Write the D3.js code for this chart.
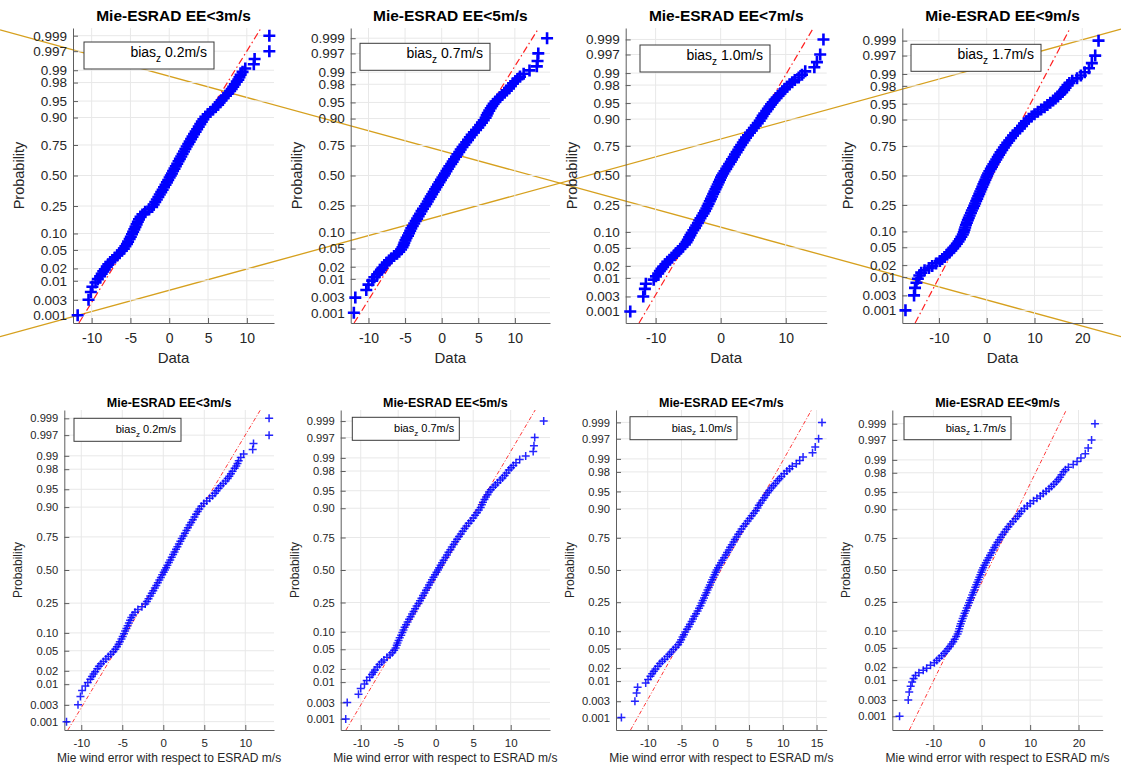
<!DOCTYPE html>
<html><head><meta charset="utf-8">
<script src="https://cdn.jsdelivr.net/npm/d3@7"></script>
<style>
body{margin:0;background:#fff}
svg{display:block}
text{font-family:"Liberation Sans",Arial,Helvetica,sans-serif}
</style>
</head><body>
<svg id="chart" width="1121" height="767"></svg>
<script>
// ---------------- DATA ----------------
const panelTitles = ["Mie-ESRAD EE<3m/s","Mie-ESRAD EE<5m/s","Mie-ESRAD EE<7m/s","Mie-ESRAD EE<9m/s"];
const biasValues = ["0.2m/s","0.7m/s","1.0m/s","1.7m/s"];

// probability levels (plotting positions) at which the sorted errors were read
const probLevels = [
 0.001,0.003,0.005,0.007,0.009,0.011,0.013,0.015,0.017,0.019,
 0.022,0.025,0.028,0.031,0.035,0.039,0.043,0.048,0.053,0.059,
 0.065,0.072,0.080,0.088,0.097,0.107,0.117,0.128,0.140,0.153,
 0.166,0.180,0.195,0.211,0.227,0.244,0.261,0.279,0.298,0.317,
 0.337,0.357,0.377,0.398,0.419,0.440,0.461,0.482,
 0.500,
 0.518,0.539,0.560,0.581,0.602,0.623,0.643,0.663,0.683,0.702,
 0.721,0.739,0.756,0.773,0.789,0.805,0.820,0.834,0.847,0.860,
 0.872,0.883,0.893,0.903,0.912,0.920,0.928,0.935,0.941,0.947,
 0.952,0.957,0.961,0.965,0.969,0.972,0.975,0.978,0.981,0.983,
 0.985,0.987,0.989,0.991,0.993,0.995,0.997,0.999
];

// wind error (m/s) at each probability level
const errorsEE3 = [
 -11.8,-10.4,-10.1,-9.9,-9.5,-9.2,-8.9,-8.7,-8.5,-8.3,
 -8.05,-7.85,-7.6,-7.3,-7.0,-6.7,-6.4,-6.1,-5.85,-5.65,
 -5.45,-5.3,-5.1,-4.95,-4.8,-4.65,-4.5,-4.35,-4.2,-4.05,
 -3.9,-3.7,-3.45,-3.1,-2.6,-2.2,-2.0,-1.8,-1.6,-1.4,
 -1.22,-1.03,-0.85,-0.67,-0.48,-0.3,-0.13,0.05,
 0.2,
 0.35,0.5,0.68,0.85,1.03,1.2,1.37,1.55,1.72,1.9,
 2.08,2.25,2.45,2.63,2.82,3.0,3.2,3.4,3.6,3.8,
 4.0,4.2,4.4,4.65,4.95,5.3,5.65,6.0,6.3,6.5,
 6.75,7.0,7.3,7.6,7.85,8.05,8.25,8.45,8.7,8.9,
 9.05,9.2,9.45,9.8,10.9,11.0,12.9,12.9
];
const errorsEE5 = [
 -12.0,-11.8,-10.3,-10.0,-9.5,-9.2,-8.8,-8.5,-8.3,-8.1,
 -7.8,-7.5,-7.2,-6.9,-6.5,-6.1,-5.8,-5.55,-5.35,-5.2,
 -5.1,-4.95,-4.8,-4.6,-4.45,-4.3,-4.15,-3.95,-3.75,-3.55,
 -3.35,-3.15,-2.95,-2.75,-2.55,-2.3,-2.1,-1.9,-1.7,-1.5,
 -1.3,-1.1,-0.9,-0.7,-0.5,-0.3,-0.1,0.1,
 0.3,
 0.45,0.65,0.85,1.05,1.3,1.5,1.7,1.95,2.15,2.4,
 2.6,2.85,3.1,3.35,3.6,3.85,4.1,4.4,4.7,5.0,
 5.25,5.5,5.75,6.0,6.15,6.3,6.5,6.7,6.9,7.1,
 7.35,7.65,7.95,8.25,8.6,8.9,9.2,9.45,9.75,10.05,
 10.35,10.7,11.2,12.0,13.0,13.1,13.2,14.4
];
const errorsEE7 = [
 -13.9,-11.9,-11.65,-11.5,-10.3,-9.95,-9.6,-9.35,-9.1,-8.85,
 -8.5,-8.2,-7.85,-7.5,-7.1,-6.8,-6.5,-6.2,-5.85,-5.5,
 -5.25,-5.05,-4.85,-4.65,-4.45,-4.2,-3.95,-3.75,-3.5,-3.3,
 -3.1,-2.85,-2.62,-2.4,-2.2,-2.02,-1.85,-1.67,-1.5,-1.32,
 -1.15,-0.97,-0.8,-0.63,-0.45,-0.28,-0.1,0.05,
 0.2,
 0.4,0.6,0.85,1.05,1.3,1.55,1.75,2.0,2.2,2.45,
 2.7,2.9,3.15,3.4,3.65,3.9,4.2,4.5,4.8,5.1,
 5.4,5.7,6.0,6.25,6.45,6.7,7.0,7.25,7.5,7.75,
 8.0,8.3,8.6,8.9,9.2,9.5,9.8,10.2,10.6,11.0,
 11.4,12.0,12.5,13.0,14.4,14.8,15.3,15.8
];
const errorsEE9 = [
 -17.0,-15.2,-15.0,-14.7,-14.4,-14.1,-13.7,-13.0,-12.1,-11.4,
 -10.6,-9.8,-9.3,-8.8,-8.3,-7.8,-7.4,-7.0,-6.6,-6.25,
 -5.9,-5.6,-5.3,-5.0,-4.8,-4.65,-4.5,-4.35,-4.15,-3.95,
 -3.75,-3.55,-3.3,-3.1,-2.85,-2.62,-2.42,-2.2,-1.98,-1.77,
 -1.55,-1.35,-1.13,-0.92,-0.7,-0.5,-0.28,-0.08,
 0.1,
 0.3,0.55,0.85,1.1,1.4,1.7,2.0,2.3,2.6,2.9,
 3.25,3.6,3.95,4.3,4.7,5.1,5.5,5.95,6.45,6.95,
 7.4,7.8,8.2,8.8,9.4,10.0,10.7,11.4,12.1,12.7,
 13.3,13.9,14.4,14.9,15.4,15.8,16.2,16.5,16.9,17.3,
 17.9,18.9,19.7,20.5,21.4,22.0,22.7,23.4
];

// reference (normal fit) line per panel
const refMean  = [0.1, 0.65, 0.85, 1.25];
const refSigma = [3.6, 3.8, 4.0, 4.8];

// axis ticks
const probTicks = [0.001,0.003,0.01,0.02,0.05,0.10,0.25,0.50,0.75,0.90,0.95,0.98,0.99,0.997,0.999];
const probTickLabels = ["0.001","0.003","0.01","0.02","0.05","0.10","0.25","0.50","0.75","0.90","0.95","0.98","0.99","0.997","0.999"];
const xTicksTop    = [[-10,-5,0,5,10],[-10,-5,0,5,10],[-10,0,10],[-10,0,10,20]];
const xTicksBottom = [[-10,-5,0,5,10],[-10,-5,0,5,10],[-10,-5,0,5,10,15],[-10,0,10,20]];
const xLabels = ["Data","Mie wind error with respect to ESRAD m/s"];

// two annotation lines crossing the upper row (figure fractions)
const crossLines = [[[0,0.039],[1,0.439]],[[0,0.439],[1,0.038]]];

// ---------------- LAYOUT ----------------
const W = 1121, H = 767;
const zMax = [3.26, 3.32, 3.35, 3.38];
const rows = [
 { top:28, bottom:323, lefts:[73,350.7,625.7,902.3], rights:[274,550,826.7,1102.7],
   xDomains:[[-12.4,13.5],[-12.43,14.8],[-14.6,16.3],[-17.66,24.27]],
   xTicks:xTicksTop, xLabel:xLabels[0],
   titleSize:15.5, titleY:21, tickFont:13.5, xTickFont:14, tickPadX:10, labelFont:15, xLabelY:363,
   yLabelFont:14.5, yLabelOff:49,
   leg:{dx:[11,9.3,14.3,8.7], dy:[14,15.3,17,16.3], w:130, h:27, font:14, sub:10, base:15, pad:7},
   arm:6, mw:2.6, mop:1, refW:1.2, refDash:"7,3,1.5,3" },
 { top:410, bottom:730, lefts:[64.3,340.7,616,892.3], rights:[274,550,826.7,1102.7],
   xDomains:[[-12.07,13.5],[-12.67,15.24],[-14.7,16.5],[-18.5,25.0]],
   xTicks:xTicksBottom, xLabel:xLabels[1],
   titleSize:12.5, titleY:406.5, tickFont:11.2, xTickFont:11.5, tickPadX:9, labelFont:12, xLabelY:762,
   yLabelFont:12, yLabelOff:42,
   leg:{dx:[9.7,11.6,14,11.7], dy:[8.3,7.3,6.7,6.7], w:107, h:23, font:11, sub:8, base:15, pad:5},
   arm:4, mw:1.5, mop:0.85, refW:0.9, refDash:"4,2,1,2" }
];

// inverse standard normal CDF (probability-paper scale)
function probit(p){
 const a=[-3.969683028665376e+01,2.209460984245205e+02,-2.759285104469687e+02,1.383577518672690e+02,-3.066479806614716e+01,2.506628277459239e+00];
 const b=[-5.447609879822406e+01,1.615858368580409e+02,-1.556989798598866e+02,6.680131188771972e+01,-1.328068155288572e+01];
 const c=[-7.784894002430293e-03,-3.223964580411365e-01,-2.400758277161838e+00,-2.549732539343734e+00,4.374664141464968e+00,2.938163982698783e+00];
 const d=[7.784695709041462e-03,3.224671290700398e-01,2.445134137142996e+00,3.754408661907416e+00];
 const pl=0.02425, ph=1-pl; let q,r;
 if(p<pl){q=Math.sqrt(-2*Math.log(p));return (((((c[0]*q+c[1])*q+c[2])*q+c[3])*q+c[4])*q+c[5])/((((d[0]*q+d[1])*q+d[2])*q+d[3])*q+1);}
 if(p<=ph){q=p-0.5;r=q*q;return (((((a[0]*r+a[1])*r+a[2])*r+a[3])*r+a[4])*r+a[5])*q/(((((b[0]*r+b[1])*r+b[2])*r+b[3])*r+b[4])*r+1);}
 q=Math.sqrt(-2*Math.log(1-p));return -(((((c[0]*q+c[1])*q+c[2])*q+c[3])*q+c[4])*q+c[5])/((((d[0]*q+d[1])*q+d[2])*q+d[3])*q+1);
}

// ---------------- DRAW ----------------
const svg = d3.select("#chart");
const errors = [errorsEE3, errorsEE5, errorsEE7, errorsEE9];
const FONT = '"Liberation Sans",Arial,Helvetica,sans-serif';

// annotation lines (behind everything)
const fx = d3.scaleLinear().domain([0,1]).range([0,W]);
const fy = d3.scaleLinear().domain([0,1]).range([0,H]);
svg.append("g").selectAll("line").data(crossLines).join("line")
  .attr("x1",d=>fx(d[0][0])).attr("y1",d=>fy(d[0][1]))
  .attr("x2",d=>fx(d[1][0])).attr("y2",d=>fy(d[1][1]))
  .attr("stroke","#d6a01e").attr("stroke-width",1.3);

rows.forEach(row=>{
 for(let k=0;k<4;k++){
  const L=row.lefts[k], R=row.rights[k];
  const x=d3.scaleLinear().domain(row.xDomains[k]).range([L,R]);
  const y=d3.scaleLinear().domain([-zMax[k],zMax[k]]).range([row.bottom,row.top]);
  const g=svg.append("g");

  // grid
  g.append("g").selectAll("line").data(row.xTicks[k]).join("line")
   .attr("x1",d=>x(d)).attr("x2",d=>x(d)).attr("y1",row.top).attr("y2",row.bottom)
   .attr("stroke","#e8e8e8").attr("stroke-width",1);
  g.append("g").selectAll("line").data(probTicks).join("line")
   .attr("x1",L).attr("x2",R).attr("y1",d=>y(probit(d))).attr("y2",d=>y(probit(d)))
   .attr("stroke","#e8e8e8").attr("stroke-width",1);

  // axes
  const yAxis=d3.axisLeft(y).tickValues(probTicks.map(probit))
     .tickFormat((d,i)=>probTickLabels[i]).tickSizeInner(-5).tickSizeOuter(0).tickPadding(6);
  const ya=g.append("g").attr("transform",`translate(${L},0)`).call(yAxis);
  const xAxis=d3.axisBottom(x).tickValues(row.xTicks[k]).tickFormat(d=>String(d))
     .tickSizeInner(-5).tickSizeOuter(0).tickPadding(row.tickPadX);
  const xa=g.append("g").attr("transform",`translate(0,${row.bottom})`).call(xAxis);
  ya.attr("font-size",row.tickFont);
  xa.attr("font-size",row.xTickFont);
  [ya,xa].forEach(a=>{
    a.attr("font-family",FONT).attr("color","#262626");
    a.selectAll("path,line").attr("stroke","#5e5e5e");
  });

  // reference line (under the markers)
  g.append("line")
   .attr("x1",x(refMean[k]+refSigma[k]*(-zMax[k]))).attr("y1",y(-zMax[k]))
   .attr("x2",x(refMean[k]+refSigma[k]*zMax[k])).attr("y2",y(zMax[k]))
   .attr("stroke","#ff2020").attr("stroke-width",row.refW).attr("stroke-dasharray",row.refDash);

  // data markers (+)
  const pts=probLevels.map((p,i)=>({z:probit(p), v:errors[k][i]}));
  const a=row.arm;
  g.append("g").selectAll("path").data(pts).join("path")
   .attr("transform",d=>`translate(${x(d.v)},${y(d.z)})`)
   .attr("d",`M${-a},0H${a}M0,${-a}V${a}`)
   .attr("stroke","#0000ff").attr("stroke-width",row.mw).attr("stroke-opacity",row.mop).attr("fill","none");

  // legend
  const lg=row.leg;
  const bx=L+lg.dx[k], by=row.top+lg.dy[k];
  g.append("rect").attr("x",bx).attr("y",by).attr("width",lg.w).attr("height",lg.h)
   .attr("fill","#fff").attr("stroke","#3a3a3a").attr("stroke-width",1);
  const t=g.append("text").attr("x",bx+lg.w-lg.pad).attr("y",by+lg.base)
   .attr("text-anchor","end").attr("font-size",lg.font).attr("fill","#000");
  t.append("tspan").text("bias");
  t.append("tspan").attr("dy",lg.sub*0.45).attr("font-size",lg.sub).text("z");
  t.append("tspan").attr("dy",-lg.sub*0.45).text("\u00a0"+biasValues[k]);

  // title
  g.append("text").attr("x",(L+R)/2).attr("y",row.titleY).attr("text-anchor","middle")
   .attr("font-weight","bold").attr("font-size",row.titleSize).attr("fill","#000").text(panelTitles[k]);
  // x label
  g.append("text").attr("x",(L+R)/2).attr("y",row.xLabelY).attr("text-anchor","middle")
   .attr("font-size",row.labelFont).attr("fill","#262626").text(row.xLabel);
  // y label
  g.append("text").attr("transform",`translate(${L-row.yLabelOff},${y(0)}) rotate(-90)`)
   .attr("text-anchor","middle").attr("font-size",row.yLabelFont).attr("fill","#262626").text("Probability");
 }
});
</script>
</body></html>
